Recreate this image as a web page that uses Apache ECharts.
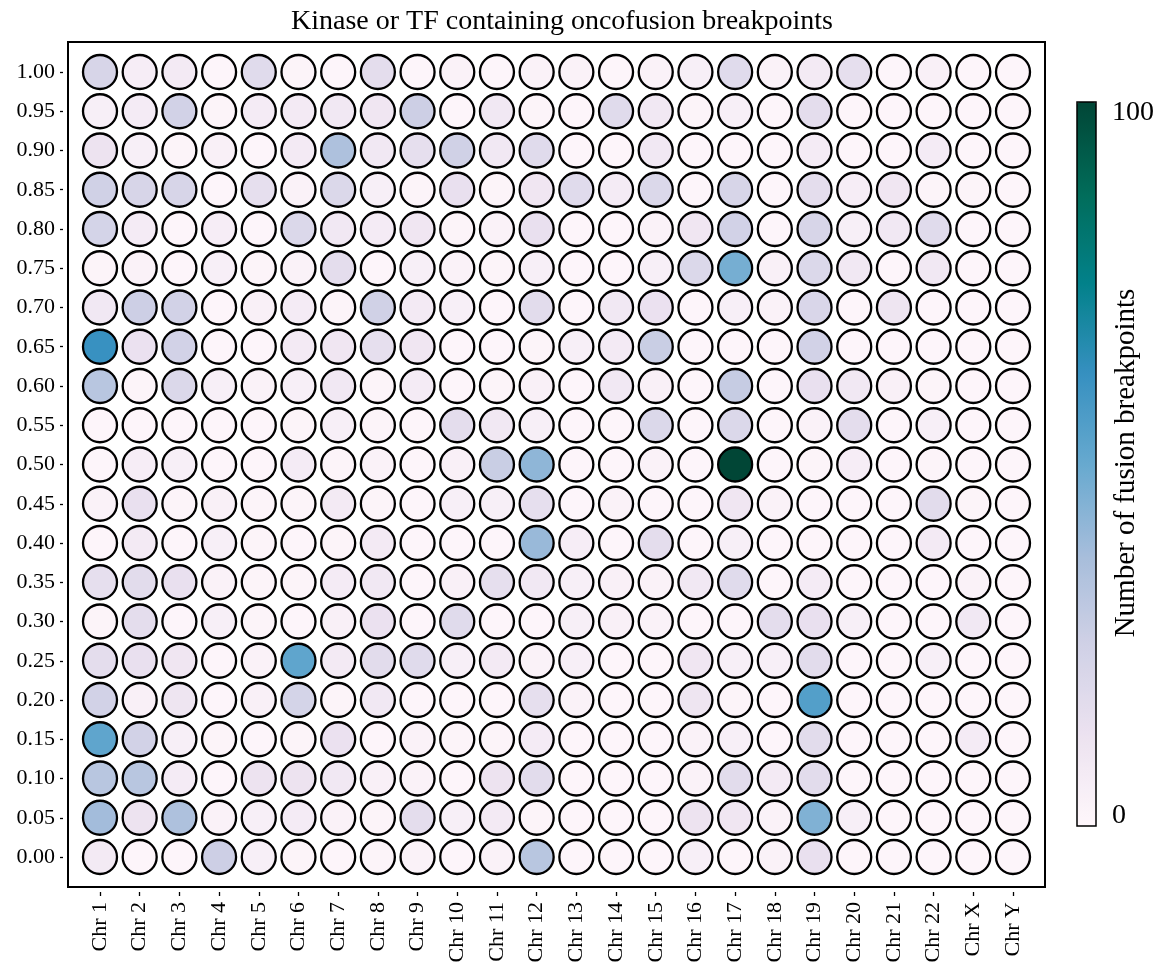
<!DOCTYPE html>
<html>
<head>
<meta charset="utf-8">
<script src="https://cdn.jsdelivr.net/npm/echarts@6/dist/echarts.min.js"></script>
<style>html,body{margin:0;padding:0;background:#fff;}#main{width:1159px;height:963px;}</style>
</head>
<body>
<div id="main"></div>
<script>
const chromosomes = ['Chr 1','Chr 2','Chr 3','Chr 4','Chr 5','Chr 6','Chr 7','Chr 8','Chr 9','Chr 10','Chr 11','Chr 12','Chr 13','Chr 14','Chr 15','Chr 16','Chr 17','Chr 18','Chr 19','Chr 20','Chr 21','Chr 22','Chr X','Chr Y'];
const positions = [0.00,0.05,0.10,0.15,0.20,0.25,0.30,0.35,0.40,0.45,0.50,0.55,0.60,0.65,0.70,0.75,0.80,0.85,0.90,0.95,1.00];

// Number of fusion breakpoints per chromosome, one array per relative position
const r100 = [22,6,8,1,18,2,1,16,1,3,1,3, 3,1,3,5,18,3,8,15,1,4,1,1];
const r095 = [5,7,24,2,7,8,9,10,26,1,9,2, 1,18,9,2,5,1,16,1,1,1,1,1];
const r090 = [12,5,2,4,1,8,35,9,15,25,9,18, 1,1,9,1,1,1,7,1,1,7,1,1];
const r085 = [25,22,22,1,15,3,20,5,2,14,2,10, 18,7,20,1,22,1,16,6,10,2,2,1];
const r080 = [23,7,1,6,1,20,9,7,10,2,3,14, 1,1,3,10,24,1,22,5,9,18,1,1];
const r075 = [2,3,1,5,2,3,16,1,5,3,2,5, 1,1,5,20,47,4,20,9,1,9,1,1];
const r070 = [9,26,24,1,4,7,2,25,8,5,1,17, 1,9,13,1,5,3,21,1,11,1,1,1];
const r065 = [62,13,24,1,1,8,10,15,10,1,1,2, 5,8,27,1,1,1,24,1,1,1,1,1];
const r060 = [32,2,20,5,3,5,9,2,7,1,2,4, 1,9,4,1,28,1,14,9,4,2,1,1];
const r055 = [1,1,1,1,1,2,5,2,1,16,9,5, 1,1,20,1,20,1,3,16,1,5,1,1];
const r050 = [1,6,5,1,1,7,2,3,1,4,27,42, 1,1,3,1,100,1,2,6,1,2,1,1];
const r045 = [3,14,2,4,2,2,8,2,1,5,5,15, 1,3,1,1,10,3,1,1,1,17,2,1];
const r040 = [1,8,1,5,2,1,2,8,1,1,1,40, 6,1,16,1,5,1,1,1,1,8,1,1];
const r035 = [15,17,14,3,2,2,7,9,1,4,15,9, 5,4,3,9,18,1,7,1,1,1,3,1];
const r030 = [2,16,1,5,2,1,4,13,1,18,1,1, 5,4,3,1,1,16,14,5,1,1,9,1];
const r025 = [16,14,10,1,3,52,8,17,18,5,8,3, 5,1,1,10,5,5,17,1,1,5,1,1];
const r020 = [24,4,11,1,4,23,2,9,1,1,1,15, 3,1,1,11,2,1,55,1,1,1,1,1];
const r015 = [52,24,5,2,1,2,13,1,3,2,2,7, 1,1,1,3,5,1,17,1,1,1,7,1];
const r010 = [32,32,7,1,12,12,9,4,3,1,12,17, 1,1,1,3,17,8,17,1,1,1,1,1];
const r005 = [38,12,35,3,5,7,3,2,16,5,8,2, 1,1,1,12,10,3,45,5,1,1,1,1];
const r000 = [8,1,1,26,5,2,1,2,3,1,3,32, 1,1,1,5,1,3,14,1,1,1,1,1];

const rowValues = [r000,r005,r010,r015,r020,r025,r030,r035,r040,r045,r050,r055,r060,r065,r070,r075,r080,r085,r090,r095,r100];

const cells = [];
rowValues.forEach((row, yi) => {
  row.forEach((v, xi) => { cells.push([xi, positions[yi], v]); });
});

const serif = 'Liberation Serif, Times New Roman, serif';
const PuBuGn = ['#fff7fb','#ece2f0','#d0d1e6','#a6bddb','#67a9cf','#3690c0','#02818a','#016c59','#014636'];
const xTickValues = chromosomes.map((c, i) => i);

const chart = echarts.init(document.getElementById('main'), null, {renderer: 'canvas'});
chart.setOption({
  backgroundColor: '#ffffff',
  animation: false,
  title: {
    text: 'Kinase or TF containing oncofusion breakpoints',
    left: 557, top: 3, textAlign: 'center',
    textStyle: {fontFamily: serif, fontSize: 28, fontWeight: 'normal', color: '#000'}
  },
  grid: {left: 68, top: 42, width: 977, height: 845, show: true, borderColor: '#000', borderWidth: 2, backgroundColor: 'transparent', outerBoundsMode: 'none', containLabel: false},
  xAxis: {
    type: 'value', min: -0.806, max: 23.806,
    offset: 5,
    splitLine: {show: false},
    axisLine: {show: false, onZero: false},
    axisTick: {show: true, inside: false, length: 4, lineStyle: {color: '#000', width: 1.3}, customValues: xTickValues},
    axisLabel: {
      customValues: xTickValues,
      formatter: v => chromosomes[Math.round(v)],
      rotate: 90, margin: 10,
      fontFamily: serif, fontSize: 22, color: '#000'
    }
  },
  yAxis: {
    type: 'value', min: -0.0382, max: 1.0382,
    offset: 5,
    splitLine: {show: false},
    axisLine: {show: false, onZero: false},
    axisTick: {show: true, inside: false, length: 3, lineStyle: {color: '#000', width: 1.3}, customValues: positions},
    axisLabel: {
      customValues: positions,
      formatter: v => v.toFixed(2),
      margin: 8,
      fontFamily: serif, fontSize: 22, color: '#000'
    }
  },
  visualMap: {
    type: 'continuous', min: 0, max: 100, dimension: 2,
    inRange: {color: PuBuGn},
    calculable: false, show: true,
    left: 1077, top: 102, itemWidth: 19, itemHeight: 724,
    padding: 0, text: null, showLabel: false
  },
  graphic: [
    {type: 'rect', shape: {x: 1077, y: 102, width: 19, height: 724}, style: {fill: 'none', stroke: '#000', lineWidth: 1.5}, z: 100},
    {type: 'text', left: 1112, top: 99, style: {text: '100', font: '28px ' + serif, fill: '#000'}},
    {type: 'text', left: 1112, top: 802, style: {text: '0', font: '28px ' + serif, fill: '#000'}},
    {type: 'text', x: 1126, y: 463, rotation: Math.PI / 2, style: {text: 'Number of fusion breakpoints', font: '29px ' + serif, fill: '#000', align: 'center', verticalAlign: 'middle'}}
  ],
  series: [{
    type: 'scatter',
    data: cells,
    symbol: 'circle',
    symbolSize: 34,
    itemStyle: {borderColor: '#000', borderWidth: 2.3, opacity: 1},
    emphasis: {disabled: true}
  }]
});
</script>
</body>
</html>
